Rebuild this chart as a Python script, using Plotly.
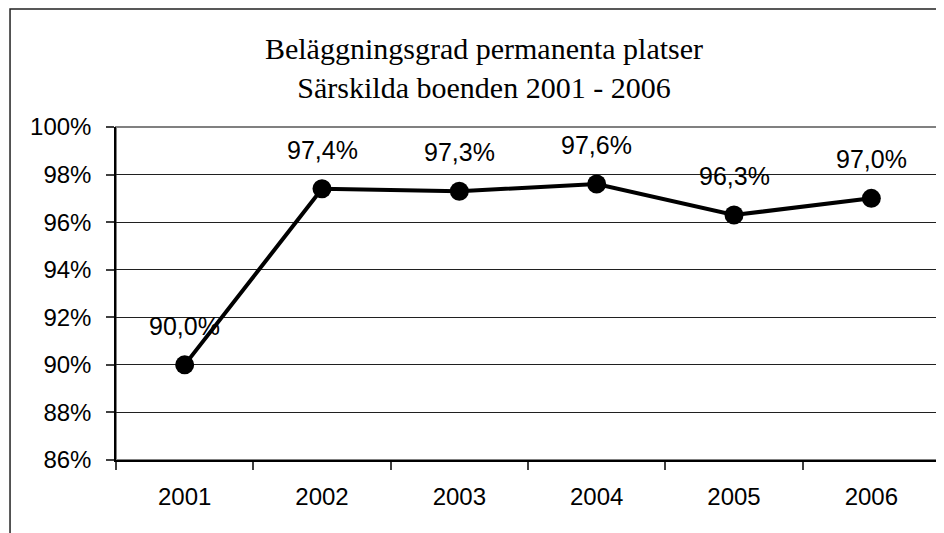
import plotly.graph_objects as go

# Beläggningsgrad permanenta platser, särskilda boenden
ar = ['2001', '2002', '2003', '2004', '2005', '2006']
belaggning = [90.0, 97.4, 97.3, 97.6, 96.3, 97.0]
y_ticks = [86, 88, 90, 92, 94, 96, 98, 100]
y_tick_labels = [f'{v}%' for v in y_ticks]

fig = go.Figure()
fig.add_trace(go.Scatter(
    x=ar, y=belaggning, mode='lines+markers',
    line=dict(color='black', width=4),
    marker=dict(color='black', size=19),
    hoverinfo='x+y', showlegend=False
))

# datalabels ovanför punkterna, med decimalkomma
# (kategoriindex som x, annars tolkas '2001' som position 2001)
for i, v in enumerate(belaggning):
    fig.add_annotation(x=i, y=v, text=f'{v:.1f}'.replace('.', ',') + '%',
                       showarrow=False, yshift=39,
                       font=dict(family='Liberation Sans', size=25, color='black'))

# ram runt hela diagrammet + grå ram runt ritytan
fig.add_shape(type='rect', xref='paper', yref='paper',
              x0=-0.1286, x1=1.2, y0=-0.3, y1=1.354,
              line=dict(color='#222', width=1.5), layer='below')
fig.add_shape(type='rect', xref='paper', yref='paper',
              x0=0, x1=1, y0=0, y1=1,
              line=dict(color='#808080', width=2), layer='below')

# sidan har 8px marginal i body, därför förskjutet
fig.update_layout(
    width=944, height=533,
    margin=dict(l=108, r=12, t=119, b=81),
    paper_bgcolor='white', plot_bgcolor='white',
    title=dict(text='Beläggningsgrad permanenta platser<br>Särskilda boenden 2001 - 2006',
               font=dict(family='Liberation Serif', size=30, color='black'),
               x=476 / 944, xref='container', xanchor='center',
               y=1 - 51 / 533, yref='container', yanchor='middle'),
    font=dict(family='Liberation Sans', size=24, color='black'),
)
fig.update_xaxes(
    type='category', range=[-0.5, len(ar) - 0.5],
    tickson='boundaries', ticks='outside', ticklen=8,
    tickcolor='#404040', tickwidth=1.5, showgrid=False,
    showline=True, linecolor='black', linewidth=1.5, ticklabelstandoff=14,
    tickfont=dict(size=24)
)
fig.update_yaxes(
    range=[86, 100], tickvals=y_ticks, ticktext=y_tick_labels,
    ticks='outside', ticklen=8, tickcolor='#404040', tickwidth=1.5,
    showgrid=True, gridcolor='#202020', gridwidth=1,
    showline=True, linecolor='black', linewidth=1.5, zeroline=False,
    ticklabelstandoff=10, tickfont=dict(size=24)
)

fig.write_html('out.html')
